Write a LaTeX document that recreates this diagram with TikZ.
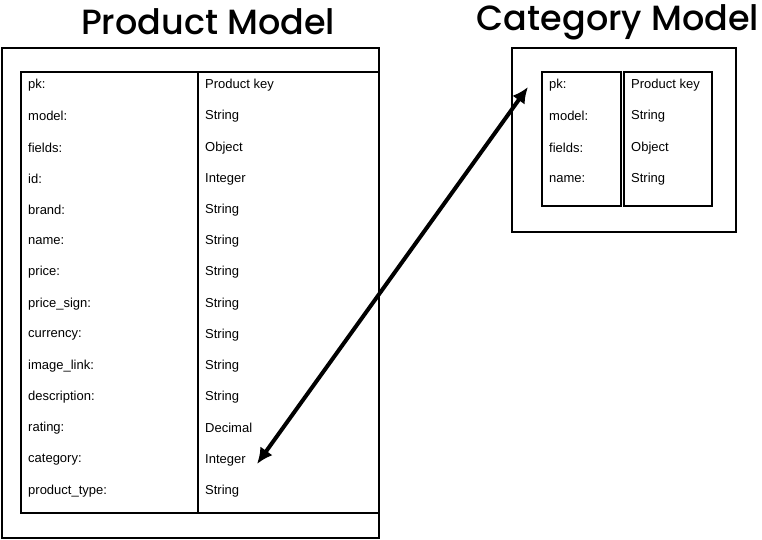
\documentclass[tikz,border=0pt]{standalone}
\usepackage{fontspec}
\setmainfont{Liberation Sans}
\newfontfamily\titlefont{Poppins}[BoldFont=* Medium]
\usetikzlibrary{arrows.meta}
\begin{document}
\begin{tikzpicture}[x=1pt,y=-1pt,
  box/.style={draw=black,line width=2.4pt},
  lbl/.style={anchor=west,inner sep=0pt,font=\fontsize{13}{15}\selectfont},
  ttl/.style={inner sep=0pt,font=\titlefont\bfseries\fontsize{35}{40}\selectfont},
  link/.style={line width=4pt,{Latex[length=16pt,width=15pt]}-{Latex[length=16pt,width=15pt]}}]
\useasboundingbox (0,0) rectangle (762,540);
% titles
\node[ttl] (t1) at (208,22) {Product Model};
\node[ttl] (t2) at (618,22) {Category Model};
% product model
\draw[box] (2,48) rectangle (379,538);
\draw[box] (21,72) rectangle (198,513);
\draw[box] (198,72) rectangle (379,513);
\foreach \k/\v/\y in {pk:/Product key/85,model:/String/116,fields:/Object/148,id:/Integer/179,brand:/String/210,name:/String/241,price:/String/272,price\_sign:/String/304,currency:/String/335,image\_link:/String/366,description:/String/397,rating:/Decimal/428,category:/Integer/460,product\_type:/String/491}{
  \node[lbl] at (28,\y) {\k};
  \node[lbl] at (205,\y) {\v};
}
% category model
\draw[box] (512,48) rectangle (736,232);
\draw[box] (542,72) rectangle (621,206);
\draw[box] (624,72) rectangle (712,206);
\foreach \k/\v/\y in {pk:/Product key/85,model:/String/116,fields:/Object/148,name:/String/179}{
  \node[lbl] at (549,\y) {\k};
  \node[lbl] at (631,\y) {\v};
}
\coordinate (ca) at (528,87);
\coordinate (pa) at (257,464);
\draw[link] (pa) -- (ca);
\end{tikzpicture}
\end{document}
